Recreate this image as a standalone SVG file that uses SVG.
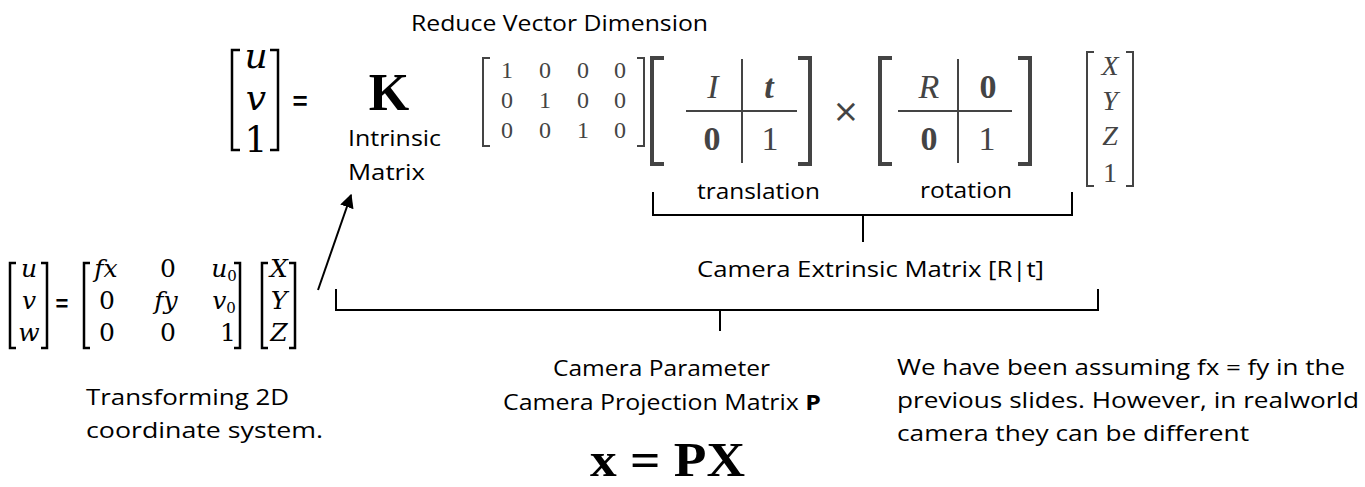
<svg xmlns="http://www.w3.org/2000/svg" width="1365" height="487" viewBox="0 0 1365 487">
<defs>
<style>
.sans{font-family:"Open Sans","Noto Sans","Liberation Sans",sans-serif;font-size:22px;fill:#000}
.mi{font-family:"DejaVu Serif","Liberation Serif",serif;font-style:italic;fill:#000}
.mn{font-family:"DejaVu Serif","Liberation Serif",serif;font-style:normal;fill:#000}
.tex{font-family:"Liberation Serif","DejaVu Serif",serif;fill:#444}
.br{fill:none;stroke:#000;stroke-width:2.5}
.gbr{fill:none;stroke:#444;stroke-width:2}
.gbr2{fill:none;stroke:#444;stroke-width:4}
.ln{fill:none;stroke:#444;stroke-width:2}
.conn{fill:none;stroke:#000;stroke-width:2}
</style>
<marker id="ah" viewBox="0 0 10 10" refX="9" refY="5" markerWidth="7" markerHeight="7" orient="auto-start-reverse">
<path d="M0,0 L10,5 L0,10 z" fill="#000"/>
</marker>
</defs>
<rect width="1365" height="487" fill="#fff"/>

<g id="title">
<text class="sans" x="411" y="31" textLength="297" lengthAdjust="spacingAndGlyphs">Reduce Vector Dimension</text>
</g>

<g id="uv1">
<path class="br" d="M240,50 H232 V150 H240 M270,50 H278 V150 H270"/>
<text class="mi" x="256" y="68" font-size="36" text-anchor="middle">u</text>
<text class="mi" x="256" y="110" font-size="36" text-anchor="middle">v</text>
<text class="mn" x="256" y="152" font-size="36" text-anchor="middle">1</text>
<text x="300" y="110" font-family="Liberation Sans,sans-serif" font-weight="bold" font-size="26" text-anchor="middle">=</text>
</g>

<g id="K">
<text x="389" y="110" font-family="Liberation Serif,serif" font-weight="bold" font-size="52" text-anchor="middle">K</text>
<text class="sans" x="348" y="146" textLength="93" lengthAdjust="spacingAndGlyphs">Intrinsic</text>
<text class="sans" x="348" y="180" textLength="77" lengthAdjust="spacingAndGlyphs">Matrix</text>
</g>

<g id="reduce" class="tex" font-size="24" text-anchor="middle">
<path class="gbr" d="M490,58 H483 V146 H490 M637,58 H644 V146 H637"/>
<text x="507" y="78">1</text><text x="545" y="78">0</text><text x="583" y="78">0</text><text x="620" y="78">0</text>
<text x="507" y="108">0</text><text x="545" y="108">1</text><text x="583" y="108">0</text><text x="620" y="108">0</text>
<text x="507" y="138">0</text><text x="545" y="138">0</text><text x="583" y="138">1</text><text x="620" y="138">0</text>
</g>

<g id="translation">
<path class="gbr2" d="M664,58 H652 V164 H664 M798,58 H810 V164 H798"/>
<line class="ln" x1="686" y1="111" x2="797" y2="111"/>
<line class="ln" x1="742" y1="59" x2="742" y2="163"/>
<text class="tex" x="713" y="98" font-size="34" font-style="italic" text-anchor="middle">I</text>
<text class="tex" x="769" y="98" font-size="34" font-style="italic" font-weight="bold" text-anchor="middle">t</text>
<text class="tex" x="712" y="150" font-size="34" font-weight="bold" text-anchor="middle">0</text>
<text class="tex" x="770" y="150" font-size="34" text-anchor="middle">1</text>
<text class="sans" x="697" y="199" textLength="123" lengthAdjust="spacingAndGlyphs">translation</text>
</g>

<g id="times">
<text x="846" y="122" font-family="DejaVu Sans,sans-serif" font-size="32" fill="#444" text-anchor="middle">×</text>
</g>

<g id="rotation">
<path class="gbr2" d="M892,58 H880 V164 H892 M1018,58 H1030 V164 H1018"/>
<line class="ln" x1="898" y1="111" x2="1012" y2="111"/>
<line class="ln" x1="958" y1="59" x2="958" y2="163"/>
<text class="tex" x="929" y="98" font-size="34" font-style="italic" text-anchor="middle">R</text>
<text class="tex" x="988" y="98" font-size="34" font-weight="bold" text-anchor="middle">0</text>
<text class="tex" x="929" y="150" font-size="34" font-weight="bold" text-anchor="middle">0</text>
<text class="tex" x="987" y="150" font-size="34" text-anchor="middle">1</text>
<text class="sans" x="920" y="198" textLength="92" lengthAdjust="spacingAndGlyphs">rotation</text>
</g>

<g id="XYZ1">
<path class="gbr" d="M1094,52 H1087 V186 H1094 M1126,52 H1133 V186 H1126"/>
<text class="tex" x="1110" y="75" font-size="28" font-style="italic" text-anchor="middle">X</text>
<text class="tex" x="1110" y="110" font-size="28" font-style="italic" text-anchor="middle">Y</text>
<text class="tex" x="1110" y="145" font-size="28" font-style="italic" text-anchor="middle">Z</text>
<text class="tex" x="1110" y="182" font-size="28" text-anchor="middle">1</text>
</g>

<g id="extrinsic">
<text class="sans" x="697" y="277" textLength="347" lengthAdjust="spacingAndGlyphs">Camera Extrinsic Matrix [R|t]</text>
</g>

<g id="leftEq" font-size="25" text-anchor="middle">
<path class="br" d="M16,263 H10 V348 H16 M41,263 H47 V348 H41"/>
<text class="mi" x="29" y="277">u</text>
<text class="mi" x="29" y="309">v</text>
<text class="mi" x="29" y="341">w</text>
<text x="62" y="311" font-family="Liberation Sans,sans-serif" font-weight="bold" font-size="22">=</text>
<path class="br" d="M90,263 H84 V348 H90 M234,263 H240 V348 H234"/>
<text class="mi" x="106" y="277">fx</text>
<text class="mn" x="168" y="277">0</text>
<text class="mi" x="224" y="277">u<tspan class="mn" font-size="15" dy="4">0</tspan></text>
<text class="mn" x="107" y="309">0</text>
<text class="mi" x="166" y="309">fy</text>
<text class="mi" x="224" y="309">v<tspan class="mn" font-size="15" dy="4">0</tspan></text>
<text class="mn" x="107" y="341">0</text>
<text class="mn" x="168" y="341">0</text>
<text class="mn" x="228" y="341">1</text>
<path class="br" d="M268,263 H262 V348 H268 M289,263 H295 V348 H289"/>
<text class="mi" x="279" y="277">X</text>
<text class="mi" x="279" y="309">Y</text>
<text class="mi" x="279" y="341">Z</text>
</g>

<g id="leftLabel">
<text class="sans" x="86" y="405" textLength="203" lengthAdjust="spacingAndGlyphs">Transforming 2D</text>
<text class="sans" x="86" y="438" textLength="237" lengthAdjust="spacingAndGlyphs">coordinate system.</text>
</g>

<g id="projection">
<text class="sans" x="553" y="376" textLength="217" lengthAdjust="spacingAndGlyphs">Camera Parameter</text>
<text class="sans" x="503" y="410" textLength="318" lengthAdjust="spacingAndGlyphs">Camera Projection Matrix <tspan font-weight="bold">P</tspan></text>
<text x="590" y="476" font-family="Liberation Serif,serif" font-weight="bold" font-size="48" textLength="155" lengthAdjust="spacingAndGlyphs">x = PX</text>
</g>

<g id="note">
<text class="sans" x="897" y="375" textLength="448" lengthAdjust="spacingAndGlyphs">We have been assuming fx = fy in the</text>
<text class="sans" x="897" y="408" textLength="462" lengthAdjust="spacingAndGlyphs">previous slides. However, in realworld</text>
<text class="sans" x="897" y="441" textLength="352" lengthAdjust="spacingAndGlyphs">camera they can be different</text>
</g>

<g id="connectors">
<path class="conn" d="M653,192 V215 H1072 V192 M863,215 V242"/>
<path class="conn" d="M336,289 V310 H1098 V289 M720,310 V331"/>
<line class="conn" x1="318" y1="290" x2="351" y2="195" marker-end="url(#ah)"/>
</g>
</svg>
